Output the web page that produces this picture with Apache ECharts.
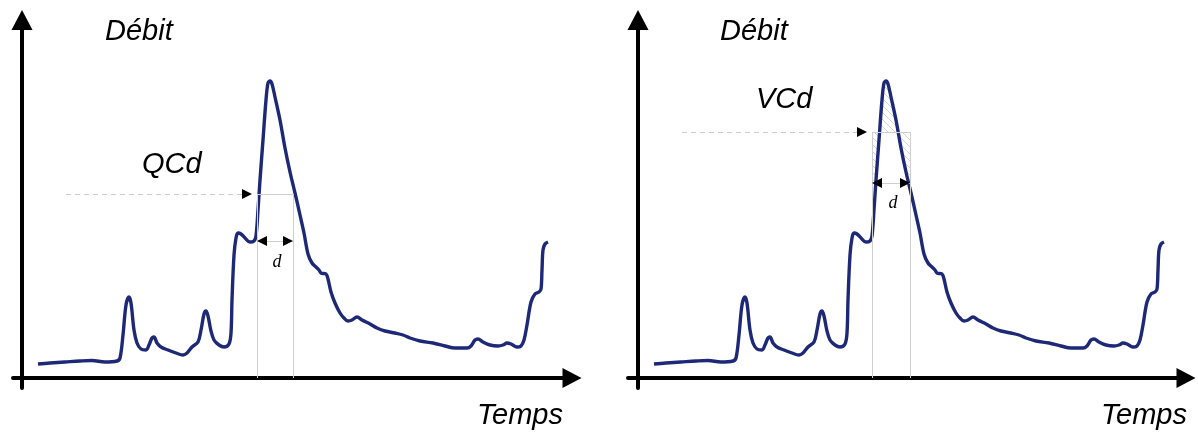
<!DOCTYPE html>
<html lang="fr">
<head>
  <meta charset="UTF-8">
  <title>QCd / VCd</title>
  <script src="https://cdn.jsdelivr.net/npm/echarts@6/dist/echarts.min.js"></script>
  <style>
    html, body { margin: 0; padding: 0; background: #fff; }
    #main { width: 1198px; height: 437px; }
  </style>
</head>
<body>
  <div id="main"></div>
  <script>
    // hydrogramme (temps, débit) - mêmes données dans les deux panneaux
    var temps = [16, 28, 43, 58, 70, 83, 95, 98, 101, 104, 107, 109, 112, 115, 119, 124, 127, 130, 132, 135,
      139, 146, 154, 161, 165, 170, 176, 179, 182, 184, 186, 189, 192, 197, 202, 207, 209, 210, 212, 214,
      216, 219, 223, 228, 232, 234, 236, 238, 241, 244, 246, 248, 250, 253, 258, 263, 268, 273, 278, 282,
      286, 290, 294, 297, 299, 304, 306, 309, 313, 318, 322, 326, 330, 335, 340, 348, 355, 363, 373, 381,
      388, 398, 411, 423, 433, 445, 449, 453, 456, 461, 468, 476, 481, 485, 489, 495, 499, 502, 505, 509,
      513, 517, 519, 520, 521, 523, 526]
    var debit = [14, 15, 16, 17, 17.5, 16, 17, 20, 43, 73, 81, 75, 48, 35, 29, 28, 33, 40, 41, 35,
      31, 28, 25, 23, 25, 31, 36, 48, 64, 67, 62, 47, 38, 33, 31, 34, 45, 78, 123, 140,
      145, 144, 140, 136, 137, 142, 168, 198, 238, 278, 295, 297, 294, 281, 258, 230, 206, 185, 163, 145,
      124, 115, 111, 108, 105, 104, 99, 86, 75, 65, 60, 57, 58, 61, 58, 54, 50, 47, 45, 43,
      40, 37, 35, 32, 30, 30, 32, 38, 39, 36, 33, 32, 33, 35, 34, 31, 32, 38, 53, 76,
      84, 86, 89, 108, 128, 134, 136]

    // seuils : [QCd, VCd]
    var seuil = [184, 246]
    var dDebut = [235, 234]
    var dFin = [271, 272]
    var niveauD = [137, 195]
    var debutTirets = 44
    var pointeFleche = [230, 229]

    var serie = temps.map(function (t, i) { return [t, debit[i]] })

    function debitA(t) {
      for (var i = 1; i < temps.length; i++) {
        if (temps[i] >= t) {
          var k = (t - temps[i - 1]) / (temps[i] - temps[i - 1])
          return debit[i - 1] + k * (debit[i] - debit[i - 1])
        }
      }
      return debit[debit.length - 1]
    }

    // motif hachuré
    var motif = document.createElement('canvas')
    motif.width = 7
    motif.height = 7
    var cx = motif.getContext('2d')
    cx.strokeStyle = '#d2d2d2'
    cx.lineWidth = 1
    ;[-7, 0, 7].forEach(function (o) {
      cx.beginPath()
      cx.moveTo(o, 0)
      cx.lineTo(o + 7, 7)
      cx.stroke()
    })

    var chart = echarts.init(document.getElementById('main'))

    function axeX(g, min, max) {
      return {
        gridIndex: g, type: 'value', min: min, max: max,
        axisLine: { onZero: true, symbol: ['none', 'triangle'], symbolSize: [20, 19], lineStyle: { color: '#000', width: 4 } },
        axisTick: { show: false }, axisLabel: { show: false }, splitLine: { show: false }
      }
    }
    function axeY(g) {
      return {
        gridIndex: g, type: 'value', min: -10, max: 358,
        axisLine: { onZero: true, symbol: ['none', 'triangle'], symbolSize: [21, 20], lineStyle: { color: '#000', width: 4 } },
        axisTick: { show: false }, axisLabel: { show: false }, splitLine: { show: false }
      }
    }

    function lignesGrises(p) {
      return [
        [{ coord: [dDebut[p], seuil[p]] }, { coord: [dFin[p], seuil[p]] }],
        [{ coord: [dDebut[p], seuil[p]] }, { coord: [dDebut[p], 0] }],
        [{ coord: [dFin[p], seuil[p]] }, { coord: [dFin[p], 0] }],
        [{ coord: [dDebut[p], niveauD[p]] }, { coord: [dFin[p], niveauD[p]] }]
      ]
    }

    function series(p) {
      var res = []
      if (p === 1) {
        // zone hachurée (volumes égaux)
        res.push({
          type: 'custom', xAxisIndex: p, yAxisIndex: p, silent: true,
          data: [[0, 0]],
          renderItem: function (params, api) {
            var pts = []
            for (var t = dDebut[p]; t <= dFin[p]; t += 0.5) {
              pts.push(api.coord([t, Math.max(debitA(t), niveauD[p])]))
            }
            pts.push(api.coord([dFin[p], seuil[p]]))
            pts.push(api.coord([dDebut[p], seuil[p]]))
            return { type: 'polygon', shape: { points: pts }, style: { fill: { image: motif, repeat: 'repeat' }, stroke: null } }
          }
        })
      }
      res.push({
        type: 'line', xAxisIndex: p, yAxisIndex: p, data: [], silent: true,
        markLine: {
          silent: true, symbol: 'none', label: { show: false },
          lineStyle: { color: '#cfcfcf', width: 1, type: 'solid' },
          data: lignesGrises(p)
        }
      })
      res.push({
        type: 'line', xAxisIndex: p, yAxisIndex: p, data: [], silent: true,
        markLine: {
          silent: true, symbol: 'none', label: { show: false },
          lineStyle: { color: '#cccccc', width: 1, type: [5, 4] },
          data: [[{ coord: [debutTirets, seuil[p]] }, { coord: [pointeFleche[p] - 8, seuil[p]] }]]
        }
      })
      res.push({
        type: 'line', xAxisIndex: p, yAxisIndex: p, data: serie,
        smooth: 0.35, symbol: 'none', silent: true,
        lineStyle: { color: '#1d2877', width: 3.4 }
      })
      res.push({
        type: 'line', xAxisIndex: p, yAxisIndex: p, data: [], silent: true,
        markLine: {
          silent: true, symbol: 'triangle', symbolSize: 10, label: { show: false },
          lineStyle: { color: '#000', width: 0 },
          data: [
            [{ coord: [pointeFleche[p] - 10, seuil[p]], symbol: 'none' }, { coord: [pointeFleche[p] - 5, seuil[p]] }],
            [{ coord: [dDebut[p] + 5, niveauD[p]] }, { coord: [dFin[p] - 5, niveauD[p]] }]
          ]
        }
      })
      return res
    }

    var police = 'italic 29px "Liberation Sans", Arial, sans-serif'
    var policeD = 'italic 18px "Liberation Serif", "Times New Roman", serif'

    var option = {
      animation: false,
      grid: [
        { left: 13, top: 20, width: 559, height: 368 },
        { left: 628, top: 20, width: 558, height: 368 }
      ],
      xAxis: [axeX(0, -9, 550), axeX(1, -10, 548)],
      yAxis: [axeY(0), axeY(1)],
      series: series(0).concat(series(1)),
      graphic: [
        { type: 'text', x: 105, y: 32, style: { text: 'Débit', font: police, fill: '#000', verticalAlign: 'middle' } },
        { type: 'text', x: 720, y: 32, style: { text: 'Débit', font: police, fill: '#000', verticalAlign: 'middle' } },
        { type: 'text', x: 142, y: 165, style: { text: 'QCd', font: police, fill: '#000', verticalAlign: 'middle' } },
        { type: 'text', x: 756, y: 100, style: { text: 'VCd', font: police, fill: '#000', verticalAlign: 'middle' } },
        { type: 'text', x: 477, y: 416, style: { text: 'Temps', font: police, fill: '#000', verticalAlign: 'middle' } },
        { type: 'text', x: 1101, y: 416, style: { text: 'Temps', font: police, fill: '#000', verticalAlign: 'middle' } },
        { type: 'text', x: 277, y: 262, style: { text: 'd', font: policeD, fill: '#000', align: 'center', verticalAlign: 'middle' } },
        { type: 'text', x: 893, y: 203, style: { text: 'd', font: policeD, fill: '#000', align: 'center', verticalAlign: 'middle' } }
      ]
    }
    chart.setOption(option)
  </script>
</body>
</html>
